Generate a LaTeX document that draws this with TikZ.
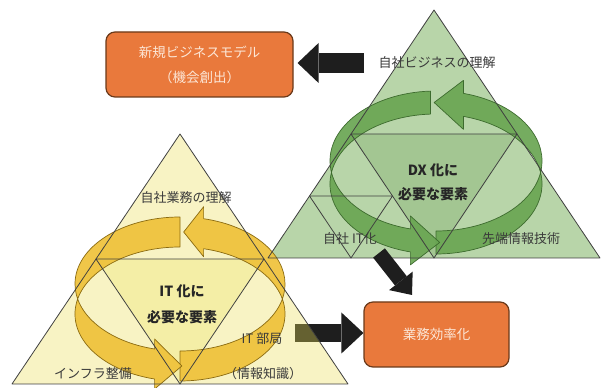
\documentclass[tikz,border=0pt]{standalone}
\usepackage{fontspec}
\newfontfamily\jp{Noto Sans CJK JP}
\usepackage{tikz}
\usetikzlibrary{calc}
\usetikzlibrary{arrows.meta}
\definecolor{boxfill}{HTML}{E9793C}
\definecolor{boxedge}{HTML}{6B3A1A}
\definecolor{boxtext}{HTML}{FCE6D6}
\definecolor{dxtri}{HTML}{B8D5A9}
\definecolor{dxcore}{HTML}{A3C692}
\definecolor{dxring}{HTML}{6AA653}
\definecolor{dxedge}{HTML}{3D6B2E}
\definecolor{ittri}{HTML}{EBDF56}
\definecolor{itcore}{HTML}{F4EEA6}
\definecolor{itring}{HTML}{EFC23A}
\definecolor{itedge}{HTML}{8A6A10}
\definecolor{labelgray}{HTML}{3A3A3A}
\definecolor{arrowblack}{HTML}{1E1E1E}
\tikzset{
  bizbox/.style={draw=boxedge, fill=boxfill, line width=1.2pt, rounded corners=9pt,
    text=boxtext, font=\jp\fontsize{13.5}{25}\selectfont, align=center, inner sep=0pt},
  lbl/.style={text=labelgray, font=\jp\fontsize{13}{16}\selectfont, inner sep=0pt},
  corelbl/.style={text=black!85, font=\jp\bfseries\fontsize{14}{17}\selectfont, inner sep=0pt},
  triline/.style={draw=black!75, line width=0.8pt, line join=round},
  ring/.style={line width=0.7pt, line join=round, fill opacity=0.92},
  blockarrow/.style={draw=arrowblack},
}

\begin{document}
\begin{tikzpicture}[x=1pt, y=1pt]
\useasboundingbox (0,0) rectangle (603,388);
\fill[white] (0,0) rectangle (603,388);
% corner points
\coordinate (gTop) at (434,378);
\coordinate (gL) at (268,130);
\coordinate (gR) at (600,130);
\coordinate (gml) at ($(gTop)!.5!(gL)$);
\coordinate (gmr) at ($(gTop)!.5!(gR)$);
\coordinate (gmb) at ($(gL)!.5!(gR)$);
\coordinate (gs1) at ($(gL)!.5!(gml)$);
\coordinate (gs2) at ($(gml)!.5!(gmb)$);
\coordinate (gs3) at ($(gL)!.5!(gmb)$);
\coordinate (yTop) at (180,254);
\coordinate (yL) at (12,4);
\coordinate (yR) at (348,4);
\coordinate (yml) at ($(yTop)!.5!(yL)$);
\coordinate (ymr) at ($(yTop)!.5!(yR)$);
\coordinate (ymb) at ($(yL)!.5!(yR)$);
% arrow under the yellow triangle
\node[bizbox, minimum width=145pt, minimum height=65pt] (eff) at (436.5,53.5) {業務効率化};
\coordinate (a3s) at (295,55);
\draw[blockarrow, line width=18pt, -{Triangle[width=41pt,length=22pt,line width=0pt]}] (a3s) -- (a3s -| eff.west);
% triangle fills
\fill[dxtri] (gTop) -- (gL) -- (gR) -- cycle;
\fill[dxcore] (gml) -- (gmr) -- (gmb) -- cycle;
\fill[ittri, fill opacity=0.35] (yTop) -- (yL) -- (yR) -- cycle;
\fill[itcore] (yml) -- (ymr) -- (ymb) -- cycle;
% green ring
\coordinate (dxT) at (436,227);
\coordinate (dxB) at (436,204);
\coordinate (dxM) at (436,215.5);
\path (dxB) ++(75:106 and 70) coordinate (dxA);
\path (dxM) ++(91:106 and 70) coordinate (dxAt);
\path (dxB) ++(256:106 and 70) coordinate (dxC);
\path (dxM) ++(272:106 and 70) coordinate (dxCt);
\filldraw[ring, fill=dxring, draw=dxedge] (dxT) ++(-90:106 and 70)
  arc[start angle=-90, end angle=75, x radius=106, y radius=70] -- ++(0,13) -- (dxAt)
  -- ($(dxA)+(0,-13)$) -- (dxA) arc[start angle=75, end angle=-90, x radius=106, y radius=70] -- cycle;
\filldraw[ring, fill=dxring, draw=dxedge] (dxT) ++(93:106 and 70)
  arc[start angle=93, end angle=256, x radius=106, y radius=70] -- ++(0,13) -- (dxCt)
  -- ($(dxC)+(0,-13)$) -- (dxC) arc[start angle=256, end angle=93, x radius=106, y radius=70] -- cycle;
% yellow ring
\coordinate (itT) at (180,104);
\coordinate (itB) at (180,74);
\coordinate (itM) at (180,89);
\path (itB) ++(77:105 and 67) coordinate (itA);
\path (itM) ++(88:105 and 67) coordinate (itAt);
\path (itB) ++(256:105 and 67) coordinate (itC);
\path (itM) ++(271:105 and 67) coordinate (itCt);
\filldraw[ring, fill=itring, draw=itedge] (itT) ++(-90:105 and 67)
  arc[start angle=-90, end angle=77, x radius=105, y radius=67] -- ++(0,12) -- (itAt)
  -- ($(itA)+(0,-8)$) -- (itA) arc[start angle=77, end angle=-90, x radius=105, y radius=67] -- cycle;
\filldraw[ring, fill=itring, draw=itedge] (itT) ++(90:105 and 67)
  arc[start angle=90, end angle=256, x radius=105, y radius=67] -- ++(0,10) -- (itCt)
  -- ($(itC)+(0,-10)$) -- (itC) arc[start angle=256, end angle=90, x radius=105, y radius=67] -- cycle;
% triangle lines
\draw[triline] (gTop) -- (gL) -- (gR) -- cycle;
\draw[triline] (gml) -- (gmr) -- (gmb) -- cycle;
\draw[triline] (gs1) -- (gs2) -- (gs3) -- cycle;
\draw[triline] (yTop) -- (yL) -- (yR) -- cycle;
\draw[triline] (yml) -- (ymr) -- (ymb) -- cycle;
% boxes and arrows
\node[bizbox, minimum width=187pt, minimum height=65pt] (newbiz) at (199.5,323.5) {新規ビジネスモデル\\（機会創出）};
\coordinate (a1s) at (364,325);
\draw[blockarrow, line width=20pt, shorten >=4pt, -{Triangle[width=40pt,length=21pt,line width=0pt]}] (a1s) -- (a1s -| newbiz.east);
\coordinate (a2s) at (379,135);
\coordinate (a2e) at (412,93);
\draw[blockarrow, line width=15pt, -{Triangle[width=30pt,length=18pt,line width=0pt]}] (a2s) -- (a2e);
% labels
\node[lbl] (dxbiz) at (437,325) {自社ビジネスの理解};
\node[corelbl] (dxcore1) at (433,218) {DX 化に};
\node[corelbl] (dxcore2) at (433,194) {必要な要素};
\node[lbl] (dxit) at (350,149) {自社 IT化};
\node[lbl] (dxtech) at (521,149) {先端情報技術};
\node[lbl] (itwork) at (186,190) {自社業務の理解};
\node[corelbl] (itcore1) at (182,97) {IT 化に};
\node[corelbl] (itcore2) at (182,71) {必要な要素};
\node[lbl] (itinfra) at (93,14) {インフラ整備};
\node[lbl] (itdept1) at (262,49) {IT 部局};
\node[lbl] (itdept2) at (263,14) {（情報知識）};
\end{tikzpicture}
\end{document}
